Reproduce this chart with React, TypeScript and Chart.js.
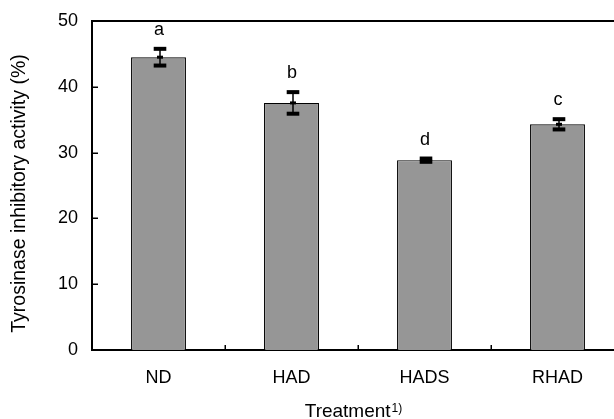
import React, { useEffect, useRef } from 'react';
import { Chart, registerables } from 'chart.js';

Chart.register(...registerables);

const categories = ['ND', 'HAD', 'HADS', 'RHAD'];
const means = [44.5, 37.55, 28.85, 34.3];
const errors = [1.27, 1.64, 0.25, 0.78];
const letters = ['a', 'b', 'd', 'c'];
const yMin = 0;
const yMax = 50;
const yStep = 10;
const yTitle = 'Tyrosinase inhibitory activity (%)';
const xTitle = 'Treatment';
const xTitleSup = '1)';

const FONT = '"Liberation Sans", Arial, Helvetica, sans-serif';

const decorPlugin = {
  id: 'decor',
  afterDatasetsDraw(chart: any) {
    const ctx = chart.ctx;
    const xs = chart.scales.x;
    const ys = chart.scales.y;
    const area = chart.chartArea;
    ctx.save();
    // top frame line
    ctx.strokeStyle = '#000';
    ctx.lineWidth = 2;
    ctx.beginPath();
    ctx.moveTo(area.left - 1, area.top);
    ctx.lineTo(area.right + 20, area.top);
    ctx.stroke();
    // y inner ticks
    ctx.lineWidth = 1.5;
    for (let v = yMin + yStep; v < yMax; v += yStep) {
      const y = Math.round(ys.getPixelForValue(v)) + 0.25;
      ctx.beginPath();
      ctx.moveTo(area.left, y);
      ctx.lineTo(area.left + 6, y);
      ctx.stroke();
    }
    // x inner ticks at category boundaries
    for (let i = 1; i < categories.length; i++) {
      const x = Math.round((xs.getPixelForValue(i - 1) + xs.getPixelForValue(i)) / 2) + 0.25;
      ctx.beginPath();
      ctx.moveTo(x, area.bottom);
      ctx.lineTo(x, area.bottom - 5);
      ctx.stroke();
    }
    // error bars and letters
    ctx.fillStyle = '#000';
    ctx.font = `18px ${FONT}`;
    ctx.textAlign = 'center';
    ctx.textBaseline = 'alphabetic';
    for (let i = 0; i < categories.length; i++) {
      const cx = xs.getPixelForValue(i) + 1.5;
      const yTop = ys.getPixelForValue(means[i] + errors[i]);
      const yBot = ys.getPixelForValue(means[i] - errors[i]);
      const yMean = ys.getPixelForValue(means[i]);
      ctx.lineWidth = 1.5;
      ctx.beginPath();
      ctx.moveTo(cx, yTop);
      ctx.lineTo(cx, yBot);
      ctx.stroke();
      ctx.fillRect(cx - 6.3, yTop - 2, 12.6, 4);
      ctx.fillRect(cx - 6.3, yBot - 2, 12.6, 4);
      ctx.fillRect(cx - 3, yMean - 1.5, 6, 3);
      ctx.fillText(letters[i], cx - 1, yTop - 2 - 12);
    }
    ctx.restore();
  },
  afterDraw(chart: any) {
    const ctx = chart.ctx;
    const area = chart.chartArea;
    ctx.save();
    ctx.fillStyle = '#000';
    // y title
    ctx.font = `19.5px ${FONT}`;
    ctx.textAlign = 'center';
    ctx.textBaseline = 'middle';
    ctx.translate(20, 193.5);
    ctx.rotate(-Math.PI / 2);
    ctx.fillText(yTitle, 0, 0);
    ctx.restore();
    // x title with superscript
    ctx.save();
    ctx.fillStyle = '#000';
    ctx.textAlign = 'left';
    ctx.textBaseline = 'alphabetic';
    ctx.font = `19px ${FONT}`;
    const w1 = ctx.measureText(xTitle).width;
    ctx.font = `12px ${FONT}`;
    const w2 = ctx.measureText(xTitleSup).width;
    const cx = (area.left + area.right) / 2 - 4.5;
    const start = cx - (w1 + w2 + 1) / 2;
    ctx.font = `19px ${FONT}`;
    ctx.fillText(xTitle, start, 417);
    ctx.font = `12px ${FONT}`;
    ctx.fillText(xTitleSup, start + w1 + 1, 412);
    ctx.restore();
  },
};

export default function App() {
  const ref = useRef<HTMLCanvasElement | null>(null);
  useEffect(() => {
    if (!ref.current) return;
    const chart = new Chart(ref.current, {
      type: 'bar',
      data: {
        labels: categories,
        datasets: [
          {
            data: means,
            backgroundColor: '#969696',
            borderColor: '#000',
            borderWidth: 1.2,
            categoryPercentage: 1,
            barPercentage: 0.413,
          },
        ],
      },
      options: {
        responsive: false,
        animation: false,
        devicePixelRatio: 1,
        layout: { padding: { left: 0, top: 21, right: 6, bottom: 0 } },
        plugins: {
          legend: { display: false },
          tooltip: { enabled: false },
          title: { display: false },
        },
        scales: {
          x: {
            type: 'category',
            offset: true,
            grid: { display: false, drawTicks: false },
            border: { display: true, color: '#000', width: 2 },
            ticks: { color: '#000', font: { size: 18, family: FONT }, padding: 17 },
            afterFit: (s: any) => {
              s.height = 69;
              s.paddingLeft = 0;
              s.paddingRight = 0;
            },
          },
          y: {
            min: yMin,
            max: yMax,
            grid: { display: false, drawTicks: false },
            border: { display: true, color: '#000', width: 2 },
            ticks: { stepSize: yStep, color: '#000', font: { size: 18, family: FONT }, padding: 14 },
            afterFit: (s: any) => {
              s.width = 92;
              s.paddingTop = 0;
              s.paddingBottom = 0;
            },
          },
        },
      },
      plugins: [decorPlugin],
    });
    return () => chart.destroy();
  }, []);
  return (
    <div style={{ position: 'fixed', left: 0, top: 0, width: 614, height: 419, overflow: 'hidden', background: '#fff' }}>
      <canvas ref={ref} width={630} height={419} style={{ display: 'block', width: 630, height: 419 }} />
    </div>
  );
}
